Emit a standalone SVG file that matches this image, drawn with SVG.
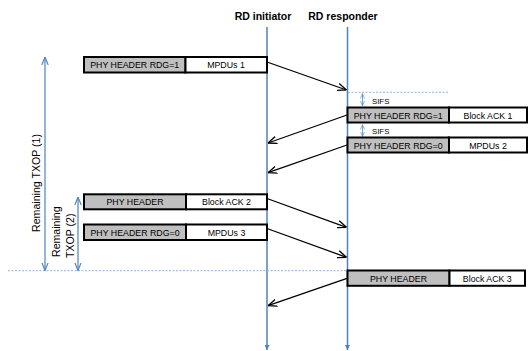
<svg xmlns="http://www.w3.org/2000/svg" width="528" height="351" viewBox="0 0 528 351">
<style>
text{font-family:"Liberation Sans",Arial,sans-serif;fill:#000}
.title{font-size:10.5px;font-weight:bold;text-anchor:middle}
.bt{font-size:8.8px;text-anchor:middle}
.sifs{font-size:7.8px}
.side{font-size:10.6px}
.hdr{fill:#bfbfbf;stroke:#000;stroke-width:2}
.pay{fill:#fff;stroke:#000;stroke-width:2}
.life{stroke:#4f81bd;stroke-width:1.5;fill:none}
.msg{stroke:#000;stroke-width:1.3;fill:none}
.txop{stroke:#4f81bd;stroke-width:1.2;fill:none}
.dash{stroke:#8db3e2;stroke-width:1;stroke-dasharray:2,1.5;fill:none}
.sa{stroke:#5b9bd5;stroke-width:0.9;fill:none}
</style>
<defs>
<marker id="ah" viewBox="0 0 10 10" refX="10" refY="5" markerWidth="9" markerHeight="9" markerUnits="userSpaceOnUse" orient="auto">
<path d="M0,1 L10,5 L0,9" fill="none" stroke="#000" stroke-width="1.5"/>
</marker>
<marker id="bh" viewBox="0 0 10 10" refX="10" refY="5" markerWidth="8" markerHeight="8" markerUnits="userSpaceOnUse" orient="auto-start-reverse">
<path d="M0,1 L10,5 L0,9" fill="none" stroke="#4f81bd" stroke-width="1.4"/>
</marker>
<marker id="sh" viewBox="0 0 10 10" refX="10" refY="5" markerWidth="5" markerHeight="6" markerUnits="userSpaceOnUse" orient="auto-start-reverse">
<path d="M0,1 L10,5 L0,9" fill="none" stroke="#5b9bd5" stroke-width="1.5"/>
</marker>
<marker id="th" viewBox="0 0 10 10" refX="10" refY="5" markerWidth="5" markerHeight="5" markerUnits="userSpaceOnUse" orient="auto">
<path d="M0,0 L10,5 L0,10 Z" fill="#4f81bd"/>
</marker>
</defs>

<g id="lifelines">
<text class="title" x="263" y="19.5">RD initiator</text>
<text class="title" x="343" y="19.5">RD responder</text>
<line class="life" x1="267" y1="27" x2="267" y2="350" marker-end="url(#th)"/>
<line class="life" x1="347.5" y1="27" x2="347.5" y2="350" marker-end="url(#th)"/>
</g>

<g id="guides">
<line class="dash" x1="348" y1="92.3" x2="449" y2="92.3"/>
<line class="dash" x1="8" y1="270.7" x2="347" y2="270.7"/>
</g>

<g id="txop1">
<line class="txop" x1="45" y1="57" x2="45" y2="270.5" marker-start="url(#bh)" marker-end="url(#bh)"/>
<text class="side" transform="translate(39.5,183) rotate(-90)" text-anchor="middle">Remaining TXOP (1)</text>
</g>
<g id="txop2">
<line class="txop" x1="78" y1="197" x2="78" y2="270.5" marker-start="url(#bh)" marker-end="url(#bh)"/>
<text class="side" transform="translate(59.5,257) rotate(-90)">Remaining</text>
<text class="side" transform="translate(74,258) rotate(-90)">TXOP (2)</text>
</g>

<g id="sifs1">
<line class="sa" x1="362.5" y1="93.5" x2="362.5" y2="106" marker-start="url(#sh)" marker-end="url(#sh)"/>
<text class="sifs" x="372" y="103.5">SIFS</text>
</g>
<g id="sifs2">
<line class="sa" x1="362.5" y1="124.5" x2="362.5" y2="136.5" marker-start="url(#sh)" marker-end="url(#sh)"/>
<text class="sifs" x="372" y="134">SIFS</text>
</g>

<g id="f1">
<rect class="hdr" x="84" y="57" width="101.5" height="15.5"/>
<rect class="pay" x="185.5" y="57" width="81.5" height="15.5"/>
<text class="bt" x="134.7" y="68.3">PHY HEADER RDG=1</text>
<text class="bt" x="226" y="68.3">MPDUs 1</text>
</g>
<g id="f2">
<rect class="hdr" x="347.5" y="107.5" width="101.5" height="15"/>
<rect class="pay" x="449" y="107.5" width="78" height="15"/>
<text class="bt" x="398.2" y="118.5">PHY HEADER RDG=1</text>
<text class="bt" x="488" y="118.5">Block ACK 1</text>
</g>
<g id="f3">
<rect class="hdr" x="347.5" y="137.5" width="101.5" height="15"/>
<rect class="pay" x="449" y="137.5" width="78" height="15"/>
<text class="bt" x="398.2" y="148.5">PHY HEADER RDG=0</text>
<text class="bt" x="488" y="148.5">MPDUs 2</text>
</g>
<g id="f4">
<rect class="hdr" x="84" y="194.3" width="102" height="15"/>
<rect class="pay" x="186" y="194.3" width="81" height="15"/>
<text class="bt" x="135" y="205.3">PHY HEADER</text>
<text class="bt" x="226.5" y="205.3">Block ACK 2</text>
</g>
<g id="f5">
<rect class="hdr" x="84" y="224.5" width="102" height="15.5"/>
<rect class="pay" x="186" y="224.5" width="81" height="15.5"/>
<text class="bt" x="135" y="235.6">PHY HEADER RDG=0</text>
<text class="bt" x="226.5" y="235.6">MPDUs 3</text>
</g>
<g id="f6">
<rect class="hdr" x="347.5" y="270.5" width="102" height="15.3"/>
<rect class="pay" x="449.5" y="270.5" width="75.5" height="15.3"/>
<text class="bt" x="398.5" y="281.5">PHY HEADER</text>
<text class="bt" x="487.3" y="281.5">Block ACK 3</text>
</g>

<g id="connectors">
<line class="msg" x1="267" y1="62" x2="346.5" y2="90" marker-end="url(#ah)"/>
<line class="msg" x1="347" y1="115" x2="268" y2="143" marker-end="url(#ah)"/>
<line class="msg" x1="347" y1="145" x2="268" y2="172.7" marker-end="url(#ah)"/>
<line class="msg" x1="267" y1="198.5" x2="346.5" y2="227.3" marker-end="url(#ah)"/>
<line class="msg" x1="267" y1="228.5" x2="346.5" y2="257.3" marker-end="url(#ah)"/>
<line class="msg" x1="347" y1="278.3" x2="268" y2="305.7" marker-end="url(#ah)"/>
</g>
</svg>
